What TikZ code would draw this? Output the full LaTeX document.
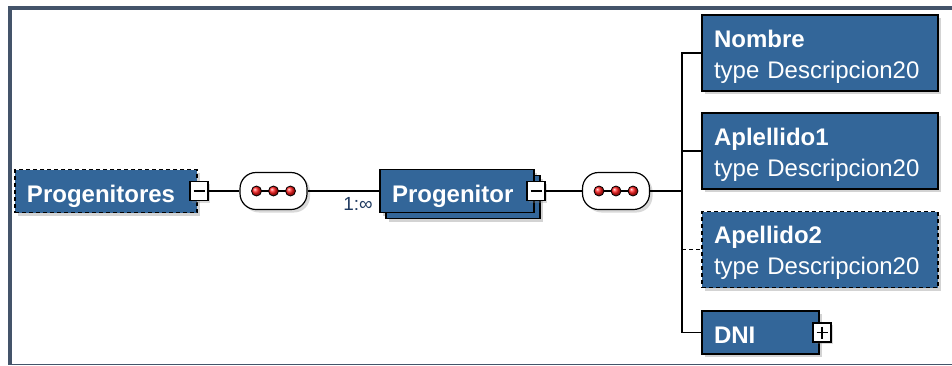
\documentclass[tikz,border=0pt]{standalone}
\usepackage{fontspec}
\setmainfont{Liberation Sans}
\usepackage{xcolor}
\usepackage{tikz}
\usetikzlibrary{positioning,shadows}

\definecolor{elemblue}{HTML}{336699}
\definecolor{framegray}{HTML}{44546A}
\definecolor{multblue}{HTML}{1F3A60}

\begin{document}
\begin{tikzpicture}[x=1pt,y=-1pt,on grid,node distance=80pt,line width=1.2pt]
	    	\tikzstyle{elem}=[draw=black,fill=elemblue,text=white,align=left,inner xsep=12pt,inner ysep=0pt,outer sep=0pt,line width=1.5pt,
	    		font=\fontsize{24}{31}\selectfont,drop shadow={shadow xshift=3pt,shadow yshift=-3pt,opacity=.35}]
	    	\tikzstyle{single}=[minimum height=43pt,text height=22pt,text depth=0pt,font=\fontsize{24}{31}\selectfont\bfseries]
	    	\tikzstyle{twoline}=[minimum height=76pt,minimum width=236pt,text width=212pt]
	    	\tikzstyle{optional}=[dash pattern=on 4pt off 3pt]
	    	\tikzstyle{stack}=[drop shadow={shadow xshift=9pt,shadow yshift=-9pt,opacity=.35},
	    		copy shadow={shadow xshift=6pt,shadow yshift=-6pt,draw=black,fill=elemblue}]
	    	\tikzstyle{toggle}=[draw=black,fill=white,minimum width=18pt,minimum height=19pt,inner sep=0pt,outer sep=0pt,line width=1.3pt,
	    		drop shadow={shadow xshift=2pt,shadow yshift=-2pt,opacity=.3}]
	    	\tikzstyle{minus}=[path picture={\draw[line width=1.4pt] ([xshift=3.5pt]path picture bounding box.west) -- ([xshift=-3.5pt]path picture bounding box.east);}]
	    	\tikzstyle{plus}=[path picture={\draw[line width=1.4pt] ([xshift=3.5pt]path picture bounding box.west) -- ([xshift=-3.5pt]path picture bounding box.east)
	    		([yshift=-3.5pt]path picture bounding box.north) -- ([yshift=3.5pt]path picture bounding box.south);}]
	    	\tikzstyle{seq}=[draw=black,fill=white,rounded corners=16pt,minimum width=67pt,minimum height=37pt,line width=1.2pt,
	    		drop shadow={shadow xshift=3pt,shadow yshift=-3pt,opacity=.3},
	    		path picture={\draw[line width=1.2pt] ([xshift=-17pt]path picture bounding box.center) -- ([xshift=17pt]path picture bounding box.center);
	    			\foreach \dx in {-17,0,17} \shadedraw[ball color=red!90!white,line width=.8pt] ([xshift=\dx pt]path picture bounding box.center) circle (5pt);}]
	    	\tikzstyle{mult}=[text=multblue,font=\fontsize{19}{22}\selectfont,inner sep=0pt]
	    	\tikzstyle{link}=[black,line width=1.3pt]

	    \useasboundingbox (0,0) rectangle (952,365);
	    \fill[framegray] (8,6) rectangle (12,365);
	    \fill[framegray] (8,6) rectangle (952,10);
	    \fill[framegray] (8,363.5) rectangle (952,365);

	    \node[elem,single,optional,minimum width=182pt,text width=158pt] (progenitores) at (106,191)          {Progenitores};
	    \node[toggle,minus]   (min_1)        [right=2pt of progenitores.east,anchor=center] {};
	    \node[seq]            (seq_1)        [right=74.5pt of min_1]                 {};
	    \node[elem,single,stack,minimum width=154pt,text width=130pt] (progenitor) [right=183.5pt of seq_1] {Progenitor};
	    \node[mult]           (mult_1)       [below left=13pt and 22pt of progenitor.west,anchor=center] {1:∞};
	    \node[toggle,minus]   (min_2)        [right=2pt of progenitor.east,anchor=center] {};
	    \node[seq]            (seq_2)        [right=80pt of min_2]                    {};

	    \node[elem,twoline]          (nombre)      at (820,53)                  {\rule{0pt}{24pt}\textbf{Nombre}\\type Descripcion20};
	    \node[elem,twoline]          (aplellido_1) [below=98pt of nombre]       {\rule{0pt}{24pt}\textbf{Aplellido1}\\type Descripcion20};
	    \node[elem,twoline,optional] (apellido_2)  [below=98.5pt of aplellido_1] {\rule{0pt}{24pt}\textbf{Apellido2}\\type Descripcion20};
	    \node[elem,single,minimum width=117pt,text width=93pt] (dni) [below=83pt of apellido_2.west,anchor=west] {DNI};
	    \node[toggle,plus]    (plus_1)       [right=3pt of dni.east,anchor=center]    {};

	    \coordinate (fork) at (682,191);

	    \draw[link] (min_1) -- (seq_1);
	    \draw[link] (seq_1) -- (progenitor);
	    \draw[link] (min_2) -- (seq_2);
	    \draw[link] (seq_2) -- (fork);
	    \draw[link] (fork) |- (nombre);
	    \draw[link] (fork) |- (aplellido_1);
	    \draw[link] (fork) |- (dni);
	    \draw[link,dash pattern=on 4pt off 3pt] (fork |- apellido_2) -- (apellido_2);

\end{tikzpicture}
\end{document}
